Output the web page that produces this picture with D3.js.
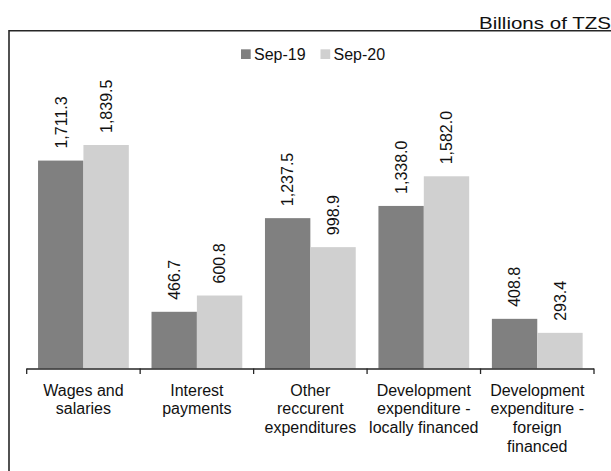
<!DOCTYPE html>
<html>
<head>
<meta charset="utf-8">
<script src="https://cdn.jsdelivr.net/npm/d3@7"></script>
<style>
  html, body { margin: 0; padding: 0; background: #fff; }
  svg { display: block; font-family: "Liberation Sans", Arial, Helvetica, sans-serif; }
</style>
</head>
<body>
<svg id="chart" width="611" height="471"></svg>
<script>
const categories = [
  ["Wages and", "salaries"],
  ["Interest", "payments"],
  ["Other", "reccurent", "expenditures"],
  ["Development", "expenditure -", "locally financed"],
  ["Development", "expenditure -", "foreign", "financed"]
];
const seriesNames = ["Sep-19", "Sep-20"];
const sep19 = [1711.3, 466.7, 1237.5, 1338.0, 408.8];
const sep20 = [1839.5, 600.8, 998.9, 1582.0, 293.4];
const unitLabel = "Billions of TZS";
const colors = ["#808080", "#d0d0d0"];

const svg = d3.select("#chart");
const W = 611, H = 471;
const left = 26.7, right = 594, baseY = 368.5;

// frame
svg.append("line").attr("x1", 9).attr("x2", W).attr("y1", 30.7).attr("y2", 30.7)
  .attr("stroke", "#262626").attr("stroke-width", 1.4);
svg.append("line").attr("x1", 9).attr("x2", 9).attr("y1", 30).attr("y2", H)
  .attr("stroke", "#262626").attr("stroke-width", 1.6);

svg.append("text").attr("x", 479).attr("y", 29)
  .attr("font-size", 17).attr("fill", "#111")
  .attr("textLength", 132).attr("lengthAdjust", "spacingAndGlyphs")
  .text(unitLabel);

const idx = categories.map((d, i) => i);
const x0 = d3.scaleBand().domain(idx).range([left, right]).padding(0);
const x1 = d3.scaleBand().domain(seriesNames).range([0, x0.bandwidth()]).paddingInner(0).paddingOuter(0.25);
const y = d3.scaleLinear().domain([0, 2500]).range([baseY, baseY - 2500 * 0.1215]);

const data = idx.map(i => ({ i, vals: [sep19[i], sep20[i]] }));

const groups = svg.append("g").selectAll("g").data(data).join("g")
  .attr("transform", d => `translate(${x0(d.i)},0)`);

groups.selectAll("rect").data(d => d.vals.map((v, k) => ({ v, k })))
  .join("rect")
  .attr("x", d => x1(seriesNames[d.k]))
  .attr("width", x1.bandwidth())
  .attr("y", d => y(d.v))
  .attr("height", d => baseY - y(d.v))
  .attr("fill", d => colors[d.k]);

const fmt = d3.format(",.1f");
groups.selectAll("text.val").data(d => d.vals.map((v, k) => ({ v, k })))
  .join("text")
  .attr("class", "val")
  .attr("transform", d => `translate(${x1(seriesNames[d.k]) + x1.bandwidth() / 2},${y(d.v) - 12}) rotate(-90)`)
  .attr("dy", "0.36em")
  .attr("font-size", 16).attr("fill", "#111")
  .attr("text-anchor", "start")
  .text(d => fmt(d.v));

// axis
const axisG = svg.append("g").attr("transform", `translate(0,${baseY})`);
axisG.append("line").attr("x1", left).attr("x2", right).attr("y1", 0.5).attr("y2", 0.5)
  .attr("stroke", "#262626").attr("stroke-width", 1.3);
const tickPos = idx.map(i => x0(i)).concat([right]);
axisG.selectAll("line.tick").data(tickPos).join("line")
  .attr("class", "tick")
  .attr("x1", d => d).attr("x2", d => d).attr("y1", 0).attr("y2", 5.5)
  .attr("stroke", "#262626").attr("stroke-width", 1.3);

const catText = axisG.selectAll("text.cat").data(data).join("text")
  .attr("class", "cat")
  .attr("x", d => x0(d.i) + x0.bandwidth() / 2)
  .attr("y", 27.2)
  .attr("text-anchor", "middle")
  .attr("font-size", 16).attr("fill", "#111");
catText.selectAll("tspan").data(d => categories[d.i].map((t, j) => ({ t, j, cx: x0(d.i) + x0.bandwidth() / 2 })))
  .join("tspan")
  .attr("x", d => d.cx)
  .attr("dy", d => d.j === 0 ? 0 : 18.7)
  .text(d => d.t);

// legend
const legend = svg.append("g");
const legendX = [241, 320.5];
seriesNames.forEach((s, k) => {
  legend.append("rect").attr("x", legendX[k]).attr("y", 49.3).attr("width", 9.7).attr("height", 9.7)
    .attr("fill", colors[k]);
  legend.append("text").attr("x", legendX[k] + 13).attr("y", 59.5)
    .attr("font-size", 16).attr("fill", "#111").text(s);
});
</script>
</body>
</html>
